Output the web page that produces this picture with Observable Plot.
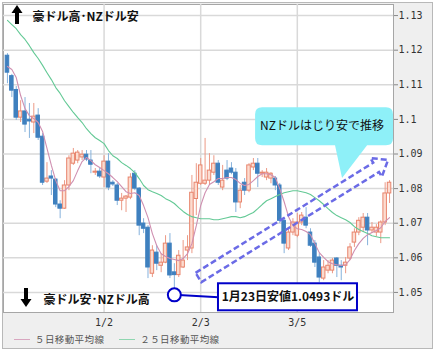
<!DOCTYPE html>
<html><head><meta charset="utf-8">
<script src="https://cdn.jsdelivr.net/npm/d3@7"></script>
<script src="https://cdn.jsdelivr.net/npm/@observablehq/plot@0.6"></script>
<style>
body{margin:0;background:#fff;}
#wrap{position:relative;width:435px;height:354px;overflow:hidden;}
#bg{position:absolute;left:2px;top:2px;width:429px;height:345px;background:#efefef;border:1px solid #b8b8b8;}
#chart{position:absolute;left:0;top:0;}
#legend{position:absolute;left:14px;top:332px;font-family:"Noto Sans CJK JP";font-size:9.5px;letter-spacing:0.4px;color:#555;display:flex;align-items:center;white-space:nowrap;}
#legend .sw{display:inline-block;width:16px;height:0;border-top:1.5px solid;margin-right:5px;}
#legend .it{display:flex;align-items:center;}
</style></head><body>
<div id="wrap"><div id="bg"></div><div id="chart"></div><div id="legend"></div></div>
<script>
// ---- data (AUD/NZD daily candles) ----
const open = [1.1184,1.1125,1.1085,1.1005,1.1023,1.0999,1.0991,1.1011,1.0950,1.0820,
1.0835,1.0826,1.0754,1.0742,1.0809,1.0872,1.0881,1.0890,1.0898,1.0881,
1.0846,1.0849,1.0832,1.0878,1.0817,1.0809,1.0765,1.0771,1.0774,1.0843,
1.0800,1.0699,1.0687,1.0554,1.0615,1.0577,1.0586,1.0641,1.0558,1.0550,
1.0572,1.0621,1.0627,1.0770,1.0814,1.0814,1.0823,1.0846,1.0872,1.0803,
1.0852,1.0858,1.0846,1.0760,1.0817,1.0794,1.0861,1.0872,1.0843,1.0832,
1.0829,1.0829,1.0809,1.0707,1.0627,1.0673,1.0664,1.0702,1.0716,1.0673,
1.0641,1.0601,1.0540,1.0563,1.0563,1.0598,1.0577,1.0577,1.0598,1.0644,
1.0673,1.0687,1.0716,1.0679,1.0673,1.0673,1.0702,1.0786];
const high = [1.1190,1.1130,1.1095,1.1054,1.1063,1.1046,1.1046,1.1031,1.0959,1.0875,
1.0852,1.0829,1.0765,1.0823,1.0895,1.0916,1.0910,1.0910,1.0910,1.0910,
1.0858,1.0858,1.0895,1.0901,1.0823,1.0815,1.0786,1.0780,1.0843,1.0852,
1.0803,1.0713,1.0693,1.0635,1.0635,1.0612,1.0664,1.0670,1.0583,1.0621,
1.0650,1.0664,1.0838,1.0872,1.0887,1.0945,1.0901,1.0895,1.0881,1.0867,
1.0881,1.0875,1.0858,1.0809,1.0829,1.0872,1.0887,1.0887,1.0852,1.0858,
1.0846,1.0835,1.0815,1.0713,1.0687,1.0713,1.0728,1.0731,1.0745,1.0684,
1.0650,1.0612,1.0592,1.0592,1.0598,1.0601,1.0592,1.0601,1.0641,1.0684,
1.0716,1.0728,1.0728,1.0702,1.0696,1.0707,1.0817,1.0823];
const low = [1.1103,1.1063,1.0997,1.0991,1.0962,1.0945,1.0959,1.0939,1.0809,1.0815,
1.0780,1.0745,1.0713,1.0740,1.0794,1.0867,1.0872,1.0881,1.0878,1.0843,
1.0838,1.0829,1.0803,1.0794,1.0806,1.0751,1.0736,1.0731,1.0768,1.0794,
1.0664,1.0670,1.0540,1.0543,1.0563,1.0557,1.0583,1.0540,1.0493,1.0543,
1.0569,1.0592,1.0612,1.0722,1.0809,1.0809,1.0809,1.0838,1.0809,1.0794,
1.0823,1.0840,1.0731,1.0742,1.0780,1.0788,1.0852,1.0803,1.0832,1.0823,
1.0814,1.0794,1.0699,1.0612,1.0621,1.0664,1.0658,1.0693,1.0684,1.0630,
1.0572,1.0528,1.0534,1.0554,1.0554,1.0543,1.0534,1.0554,1.0592,1.0630,
1.0664,1.0673,1.0635,1.0670,1.0661,1.0641,1.0693,1.0757];
const close = [1.1135,1.1083,1.1005,1.1023,1.0985,1.0994,1.1008,1.0947,1.0817,1.0829,
1.0829,1.0754,1.0742,1.0809,1.0887,1.0901,1.0904,1.0898,1.0884,1.0869,
1.0849,1.0835,1.0878,1.0803,1.0812,1.0765,1.0771,1.0777,1.0832,1.0800,
1.0693,1.0684,1.0572,1.0621,1.0583,1.0586,1.0641,1.0549,1.0550,1.0606,
1.0592,1.0630,1.0788,1.0817,1.0867,1.0823,1.0852,1.0872,1.0817,1.0823,
1.0829,1.0846,1.0760,1.0794,1.0794,1.0867,1.0872,1.0843,1.0846,1.0846,
1.0843,1.0809,1.0707,1.0641,1.0673,1.0702,1.0702,1.0722,1.0693,1.0635,
1.0586,1.0543,1.0572,1.0577,1.0592,1.0577,1.0572,1.0586,1.0630,1.0673,
1.0707,1.0716,1.0679,1.0687,1.0687,1.0702,1.0786,1.0817];
const ma5 = [1.1153,1.1144,1.1121,1.1069,1.1031,1.1011,1.1002,1.0991,1.0965,1.0916,
1.0867,1.0823,1.0794,1.0794,1.0806,1.0823,1.0852,1.0878,1.0890,1.0881,
1.0869,1.0861,1.0852,1.0843,1.0832,1.0820,1.0806,1.0791,1.0786,1.0788,
1.0780,1.0751,1.0716,1.0670,1.0635,1.0612,1.0604,1.0598,1.0595,1.0592,
1.0598,1.0612,1.0641,1.0693,1.0751,1.0788,1.0812,1.0820,1.0829,1.0829,
1.0832,1.0832,1.0826,1.0815,1.0809,1.0812,1.0823,1.0835,1.0843,1.0843,
1.0840,1.0832,1.0800,1.0762,1.0719,1.0693,1.0684,1.0682,1.0676,1.0667,
1.0641,1.0615,1.0601,1.0589,1.0583,1.0580,1.0578,1.0580,1.0595,1.0621,
1.0641,1.0656,1.0667,1.0673,1.0679,1.0687,1.0705,1.0716];
const ma25 = [1.1286,1.1274,1.1262,1.1245,1.1231,1.1213,1.1193,1.1176,1.1156,1.1135,
1.1115,1.1092,1.1075,1.1054,1.1037,1.1020,1.1005,1.0991,1.0973,1.0959,
1.0947,1.0939,1.0930,1.0910,1.0895,1.0887,1.0875,1.0867,1.0858,1.0846,
1.0829,1.0809,1.0797,1.0791,1.0786,1.0780,1.0771,1.0765,1.0757,1.0745,
1.0734,1.0725,1.0719,1.0716,1.0713,1.0713,1.0713,1.0710,1.0710,1.0713,
1.0716,1.0719,1.0719,1.0716,1.0719,1.0725,1.0731,1.0742,1.0754,1.0765,
1.0771,1.0777,1.0783,1.0788,1.0791,1.0794,1.0794,1.0791,1.0788,1.0783,
1.0774,1.0765,1.0754,1.0742,1.0731,1.0722,1.0716,1.0710,1.0702,1.0690,
1.0682,1.0676,1.0670,1.0664,1.0661,1.0658,1.0658,1.0658];
const yTicks = [1.05,1.06,1.07,1.08,1.09,1.10,1.11,1.12,1.13];
const xTickPos = [22,44,66];
const xTickLabels = ["1/2","2/3","3/5"];
const seriesNames = ["５日移動平均線","２５日移動平均線"];
const topNote = "豪ドル高･NZドル安";
const bottomNote = "豪ドル安･NZドル高";
const lowNote = "1月23日安値1.0493ドル";
const trendNote = "NZドルはじり安で推移";
const lowPoint = [{i:38, v:1.0493}];
// annotation anchors (data units)
const lowBox = {i1:48.05, i2:79.7, v1:1.0525, v2:1.0447};
const callout = {i1:56.5, i2:87.9, v1:1.1034, v2:1.0924, tip:{i:76.3, v:1.0829}, b1:74.7, b2:82.0};
const trend = {tail:{i:43.6, v:1.05417}, tip:{i:86.76, v:1.08812}};

const colUp = "#e8846c", colUpFill = "#fcdcd0", colDn = "#3f80bf", wickUp = "#ec9a86", wickDn = "#86b2dc";
const candles = open.map((o, i) => ({i, o, h: high[i], l: low[i], c: close[i], up: close[i] >= o}));

const chart = Plot.plot({
  width: 435, height: 354,
  marginLeft: 3, marginRight: 42, marginTop: 4, marginBottom: 42,
  style: {background: "transparent", fontFamily: "DejaVu Sans Mono", fontSize: "10px", color: "#333"},
  x: {type: "linear", domain: [-0.9, 87.9], axis: null},
  y: {domain: [1.0442, 1.1332], axis: null},
  marks: [
    Plot.frame({fill: "white", stroke: "#a6a6a6"}),
    Plot.gridY(yTicks, {stroke: "#d9d9d9", strokeOpacity: 1, strokeWidth: 1.5}),
    Plot.gridX(xTickPos, {stroke: "#d9d9d9", strokeOpacity: 1, strokeWidth: 1.5}),
    Plot.axisY(yTicks, {anchor: "right", tickSize: 4, tickPadding: 1, stroke: "#888",
      tickFormat: d => String(+d.toFixed(2)), fill: "#333", fontSize: 10}),
    Plot.axisX(xTickPos, {anchor: "bottom", tickSize: 0, tickPadding: 6,
      tickFormat: d => xTickLabels[xTickPos.indexOf(d)], fill: "#333", fontSize: 10}),
    Plot.ruleX(candles, {filter: d => d.up, x: "i", y1: "l", y2: "h", stroke: wickUp, strokeWidth: 1}),
    Plot.ruleX(candles, {filter: d => !d.up, x: "i", y1: "l", y2: "h", stroke: wickDn, strokeWidth: 1}),
    Plot.rect(candles, {filter: d => d.up, x1: d => d.i - 0.4, x2: d => d.i + 0.4, y1: "o", y2: "c",
      fill: colUpFill, stroke: colUp, strokeWidth: 1}),
    Plot.rect(candles, {filter: d => !d.up, x1: d => d.i - 0.4, x2: d => d.i + 0.4, y1: "o", y2: "c",
      fill: colDn, stroke: colDn, strokeWidth: 1}),
    Plot.lineY(ma25, {x: (d, i) => i, y: d => d, stroke: "#63c995", strokeWidth: 1.1}),
    Plot.lineY(ma5, {x: (d, i) => i, y: d => d, stroke: "#cf8fb0", strokeWidth: 1.1}),
    Plot.text([topNote], {frameAnchor: "top-left", dx: 29, dy: 13, lineAnchor: "middle", textAnchor: "start",
      fontFamily: "Noto Sans CJK JP", fontWeight: "bold", fontSize: 12, fill: "#111"}),
    Plot.text([bottomNote], {frameAnchor: "bottom-left", dx: 40, dy: -12, lineAnchor: "middle", textAnchor: "start",
      fontFamily: "Noto Sans CJK JP", fontWeight: "bold", fontSize: 12, fill: "#111"}),
    // low marker, connector and label box
    Plot.link([lowBox], {x1: () => lowPoint[0].i, y1: () => lowPoint[0].v, x2: "i1", y2: d => (d.v1 + d.v2) / 2,
      stroke: "#0000c8", strokeWidth: 2}),
    Plot.dot(lowPoint, {x: "i", y: "v", r: 6.5, stroke: "#0000c8", strokeWidth: 2, fill: "white"}),
    Plot.rect([lowBox], {x1: "i1", x2: "i2", y1: "v1", y2: "v2", fill: "white", stroke: "#0000c8", strokeWidth: 2}),
    Plot.text([lowNote], {x: lowBox.i1 / 2 + lowBox.i2 / 2, y: (lowBox.v1 + lowBox.v2) / 2, lineAnchor: "middle",
      fontFamily: "Noto Sans CJK JP", fontWeight: "bold", fontSize: 12, fill: "#111"})
  ]
});
document.getElementById("chart").appendChild(chart);

// extra shapes drawn through the chart's own scales
const sx = chart.scale("x"), sy = chart.scale("y");
const X = v => sx.apply(v), Y = v => sy.apply(v);
const svg = d3.select(chart);
const g = svg.append("g");

// callout bubble
const cx1 = X(callout.i1), cx2 = X(callout.i2), cy1 = Y(callout.v1), cy2 = Y(callout.v2), r = 7;
const tipX = X(callout.tip.i), tipY = Y(callout.tip.v), bx1 = X(callout.b1), bx2 = X(callout.b2);
const bubble = `M${cx1 + r},${cy1} H${cx2 - r} Q${cx2},${cy1} ${cx2},${cy1 + r} V${cy2 - r} Q${cx2},${cy2} ${cx2 - r},${cy2}
 H${bx2} L${tipX},${tipY} L${bx1},${cy2} H${cx1 + r} Q${cx1},${cy2} ${cx1},${cy2 - r} V${cy1 + r} Q${cx1},${cy1} ${cx1 + r},${cy1} Z`;
g.append("path").attr("d", bubble).attr("fill", "#8ef0f8");
g.append("text").attr("x", (cx1 + cx2) / 2 - 2).attr("y", (cy1 + cy2) / 2).attr("dy", "0.35em")
  .attr("text-anchor", "middle").attr("font-family", "Noto Sans CJK JP").attr("font-size", 12).attr("fill", "#111")
  .text(trendNote);

// dashed block arrow along the trend
{
  const ax = X(trend.tail.i), ay = Y(trend.tail.v), px = X(trend.tip.i), py = Y(trend.tip.v);
  const dx = px - ax, dy = py - ay, L = Math.hypot(dx, dy), ux = dx / L, uy = dy / L, nx = -uy, ny = ux;
  const w = 5.5, hw = 11, hl = 14;
  const P = (t, s) => [ax + ux * t + nx * s, ay + uy * t + ny * s];
  const pts = [P(0, -w), P(L - hl, -w), P(L - hl, -hw), P(L, 0), P(L - hl, hw), P(L - hl, w), P(0, w)];
  g.append("path").attr("d", "M" + pts.map(p => p.join(",")).join("L") + "Z")
    .attr("fill", "none").attr("stroke", "#6b6be6").attr("stroke-width", 2.5).attr("stroke-dasharray", "6,3");
}

// thick black arrows next to the corner notes
{
  const fx = X(-0.9), fy1 = Y(1.1332), fy2 = Y(1.0442);
  const up = [[14, 1], [8.5, 9], [12, 9], [12, 20], [16, 20], [16, 9], [19.5, 9]].map(([a, b]) => [fx + a, fy1 + b]);
  const dn = [[23, -5], [17.5, -13], [21, -13], [21, -24], [25, -24], [25, -13], [28.5, -13]].map(([a, b]) => [fx + a, fy2 + b]);
  for (const p of [up, dn]) g.append("path").attr("d", "M" + p.map(q => q.join(",")).join("L") + "Z").attr("fill", "#000");
}

// legend
const leg = d3.select("#legend");
[["#d8a6bf", seriesNames[0], "15px"], ["#8fd6b0", seriesNames[1], "0px"]].forEach(([c, t, m]) => {
  const it = leg.append("span").attr("class", "it").style("margin-right", m);
  it.append("span").attr("class", "sw").style("border-color", c);
  it.append("span").text(t);
});
</script>
</body></html>
